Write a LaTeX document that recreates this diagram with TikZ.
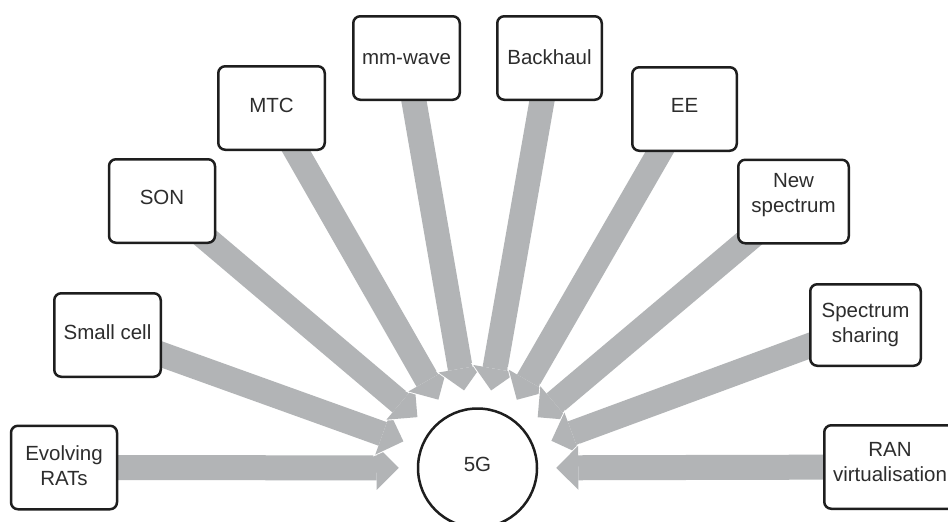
\documentclass[tikz,border=0pt]{standalone}
\usepackage{fontspec}
\setmainfont{Liberation Sans}
\usetikzlibrary{arrows.meta,backgrounds}
\definecolor{arrgrey}{RGB}{178,180,182}
\definecolor{txtcol}{RGB}{45,45,45}
\definecolor{linecol}{RGB}{30,30,30}
\newcommand{\twolines}[2]{\begin{tabular}{@{}c@{}}#1\\#2\end{tabular}}
\newcommand{\fatarrow}[1]{%
  \draw[line width=28pt, white, -{Triangle[length=26pt,width=49pt,line width=0pt]}, shorten >=15.5pt] (#1.center) -- (c);
  \draw[line width=25pt, arrgrey, -{Triangle[length=22pt,width=44pt,line width=0pt]}, shorten >=18pt] (#1.center) -- (c);}
\begin{document}
\begin{tikzpicture}[x=1pt,y=-1pt,
  every node/.style={font=\fontsize{20.5pt}{25pt}\selectfont, text=txtcol},
  box/.style={draw=linecol, line width=2.5pt, rounded corners=7pt, fill=white,
    minimum width=106pt, minimum height=83.5pt, inner sep=0pt},
  one/.style={text height=15pt, text depth=#1},
  two/.style={text height=30.1pt, text depth=#1},
  circ/.style={circle, draw=linecol, line width=2.5pt, fill=white, minimum size=119pt, inner sep=0pt}]
\useasboundingbox (0,0) rectangle (948,522);
\node[circ, one=8.3pt] (c) at (477.5,468) {5G};
\node[box, two=17.9pt] (ev) at (64,467.5) {\twolines{Evolving}{RATs}};
\node[box, one=6.3pt, minimum width=106.5pt] (sc) at (107.5,335) {Small cell};
\node[box, one=8.3pt] (son) at (162,201) {SON};
\node[box, one=6.3pt, minimum width=106.5pt] (mtc) at (271.5,108) {MTC};
\node[box, one=2.3pt, minimum width=106.5pt] (mm) at (406.5,58) {mm-wave};
\node[box, one=2.3pt, minimum width=104.5pt] (bh) at (549.5,58) {Backhaul};
\node[box, one=8.3pt, minimum width=104.5pt] (ee) at (684.5,109) {EE};
\node[box, two=31.9pt, minimum width=110.5pt] (ns) at (793.5,201.5) {\twolines{New}{spectrum}};
\node[box, two=19.9pt, minimum width=110.5pt, minimum height=81.5pt] (ss) at (865.5,325) {\twolines{Spectrum}{sharing}};
\node[box, two=24.9pt, minimum width=131.5pt] (ran) at (890,467) {\twolines{RAN}{virtualisation}};
\begin{pgfonlayer}{background}
\fill[white] (0,0) rectangle (948,522);
\fatarrow{ev}
\fatarrow{sc}
\fatarrow{son}
\fatarrow{mtc}
\fatarrow{mm}
\fatarrow{bh}
\fatarrow{ee}
\fatarrow{ns}
\fatarrow{ss}
\fatarrow{ran}
\end{pgfonlayer}
\end{tikzpicture}
\end{document}
